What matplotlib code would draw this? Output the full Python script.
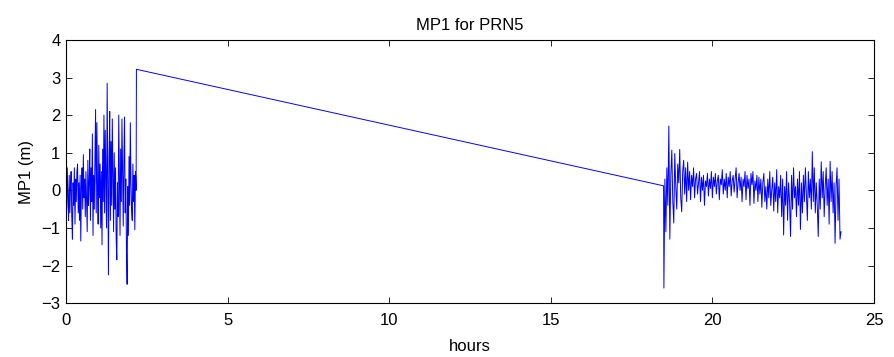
import matplotlib
matplotlib.use("Agg")
import matplotlib.pyplot as plt
import numpy as np

# MP1 multipath combination, first pass (0 - 2.17 h)
pass1_mp1 = [
    0.3, -0.5, 0.6, -0.2, -0.8, 0.4, -0.6, 0.1, 0.5, -0.7,
    -1.3, 0.2, -0.4, 0.6, -0.9, 0.3, -0.3, 0.5, 0.7, -0.6,
    0.2, -0.8, 0.4, -1.35, 0.1, 0.6, -0.5, 0.95, -0.2, 0.3,
    -0.7, 0.5, -0.3, -1.1, 0.8, -0.4, 0.2, 1.1, -0.8, 0.6,
    -0.3, 1.5, -1.2, 0.4, -0.5, 0.9, 2.15, -0.6, 1.8, 0.1,
    -0.9, 1.2, -0.2, 0.7, -1.0, 0.5, -1.45, 1.1, -0.3, 2.0,
    -0.6, 1.6, 0.2, -1.0, 2.85, 0.4, -2.25, 0.9, 2.1, -0.8,
    1.3, -0.4, 1.9, 0.3, -1.1, 1.0, -0.5, 0.6, -1.3, -1.85,
    0.2, -0.7, 2.0, 0.5, -1.2, 1.1, -0.3, 1.9, 0.4, -0.95,
    0.8, 1.95, -0.6, 0.3, -1.55, -2.5, 0.1, -1.2, 0.9, -0.4,
    1.8, 0.2, -0.5, -0.8, 0.7, -0.3, 0.4, -1.05, 0.5, 0.0,
]
pass1_start, pass1_end = 0.0, 2.17

# samples bridging the data gap
gap_hours = [2.18, 18.49]
gap_mp1 = [3.22, 0.12]

# second pass (18.5 - 23.98 h)
pass2_mp1 = [
    -2.6, 0.3, -1.1, 0.6, -0.4, 1.71, -1.3, 0.4, 1.07, -0.3,
    -0.87, 0.98, 0.1, -0.5, 0.7, 0.2, 1.09, -0.2, -0.57, 0.5,
    0.8, -0.1, 0.6, -0.3, 0.75, 0.0, 0.5, -0.25, 0.4, 0.1,
    0.6, -0.2, 0.3, 0.45, -0.1, 0.2, 0.5, -0.3, 0.35, 0.0,
    0.4, -0.4, 0.25, 0.1, 0.45, -0.15, 0.3, 0.05, 0.5, -0.2,
    0.35, 0.1, 0.45, -0.1, 0.25, 0.4, -0.25, 0.3, 0.15, 0.55,
    -0.1, 0.3, 0.0, 0.45, -0.2, 0.35, 0.1, 0.5, -0.15, 0.25,
    0.4, -0.05, 0.3, 0.6, -0.2, 0.2, 0.45, 0.0, 0.35, -0.3,
    0.3, 0.1, 0.5, -0.25, 0.4, 0.05, 0.3, -0.4, 0.45, 0.15,
    0.5, -0.35, 0.25, 0.0, 0.4, -0.3, 0.35, -0.1, 0.3, -0.45,
    0.2, 0.45, -0.3, 0.1, -0.5, 0.3, -0.2, 0.5, -0.4, 0.0,
    0.35, -0.55, 0.2, -0.3, 0.55, -0.6, 0.1, -0.2, 0.4, -0.7,
    0.3, -1.19, 0.1, -0.4, 0.5, -0.8, 0.2, -0.3, -1.23, 0.4,
    -0.5, 0.6, -0.2, 0.1, -0.7, 0.3, -0.4, 0.5, -1.04, 0.2,
    -0.6, 0.4, -0.3, 0.6, -0.1, -0.8, 0.5, -0.2, 0.3, -0.5,
    1.03, -0.3, 0.6, -0.6, 0.2, -0.4, -1.23, 0.3, -0.5, 0.76,
    -0.2, 0.5, -0.7, 0.1, 0.6, -0.4, 0.3, -0.9, 0.77, -0.3,
    0.5, -0.6, 0.2, -1.41, 0.1, 0.6, -0.8, 0.3, -1.3, -1.1,
]
pass2_start, pass2_end = 18.5, 23.98

hours = np.concatenate([
    np.linspace(pass1_start, pass1_end, len(pass1_mp1)),
    gap_hours,
    np.linspace(pass2_start, pass2_end, len(pass2_mp1)),
])
mp1 = np.concatenate([pass1_mp1, gap_mp1, pass2_mp1])

plt.rcParams['font.family'] = ['Liberation Sans', 'DejaVu Sans']
plt.rcParams['font.size'] = 12

fig = plt.figure(figsize=(8.94, 3.57), dpi=100)
ax = fig.add_axes([0.0738, 0.151, 0.9038, 0.737])
ax.plot(hours, mp1, color='blue', linewidth=0.7)
ax.set_xlim(0, 25)
ax.set_ylim(-3, 4)
ax.set_xticks(range(0, 26, 5))
ax.set_yticks(range(-3, 5))
ax.tick_params(direction='in', top=True, right=True, length=4, width=0.6)
ax.tick_params(axis='x', pad=7)
ax.tick_params(axis='y', pad=4)
for s in ax.spines.values():
    s.set_linewidth(0.8)
ax.set_xlabel("hours", labelpad=8)
ax.set_ylabel("MP1 (m)", labelpad=5)
ax.set_title("MP1 for PRN5", fontsize=12, pad=7)
fig.savefig("out.png", dpi=100)
